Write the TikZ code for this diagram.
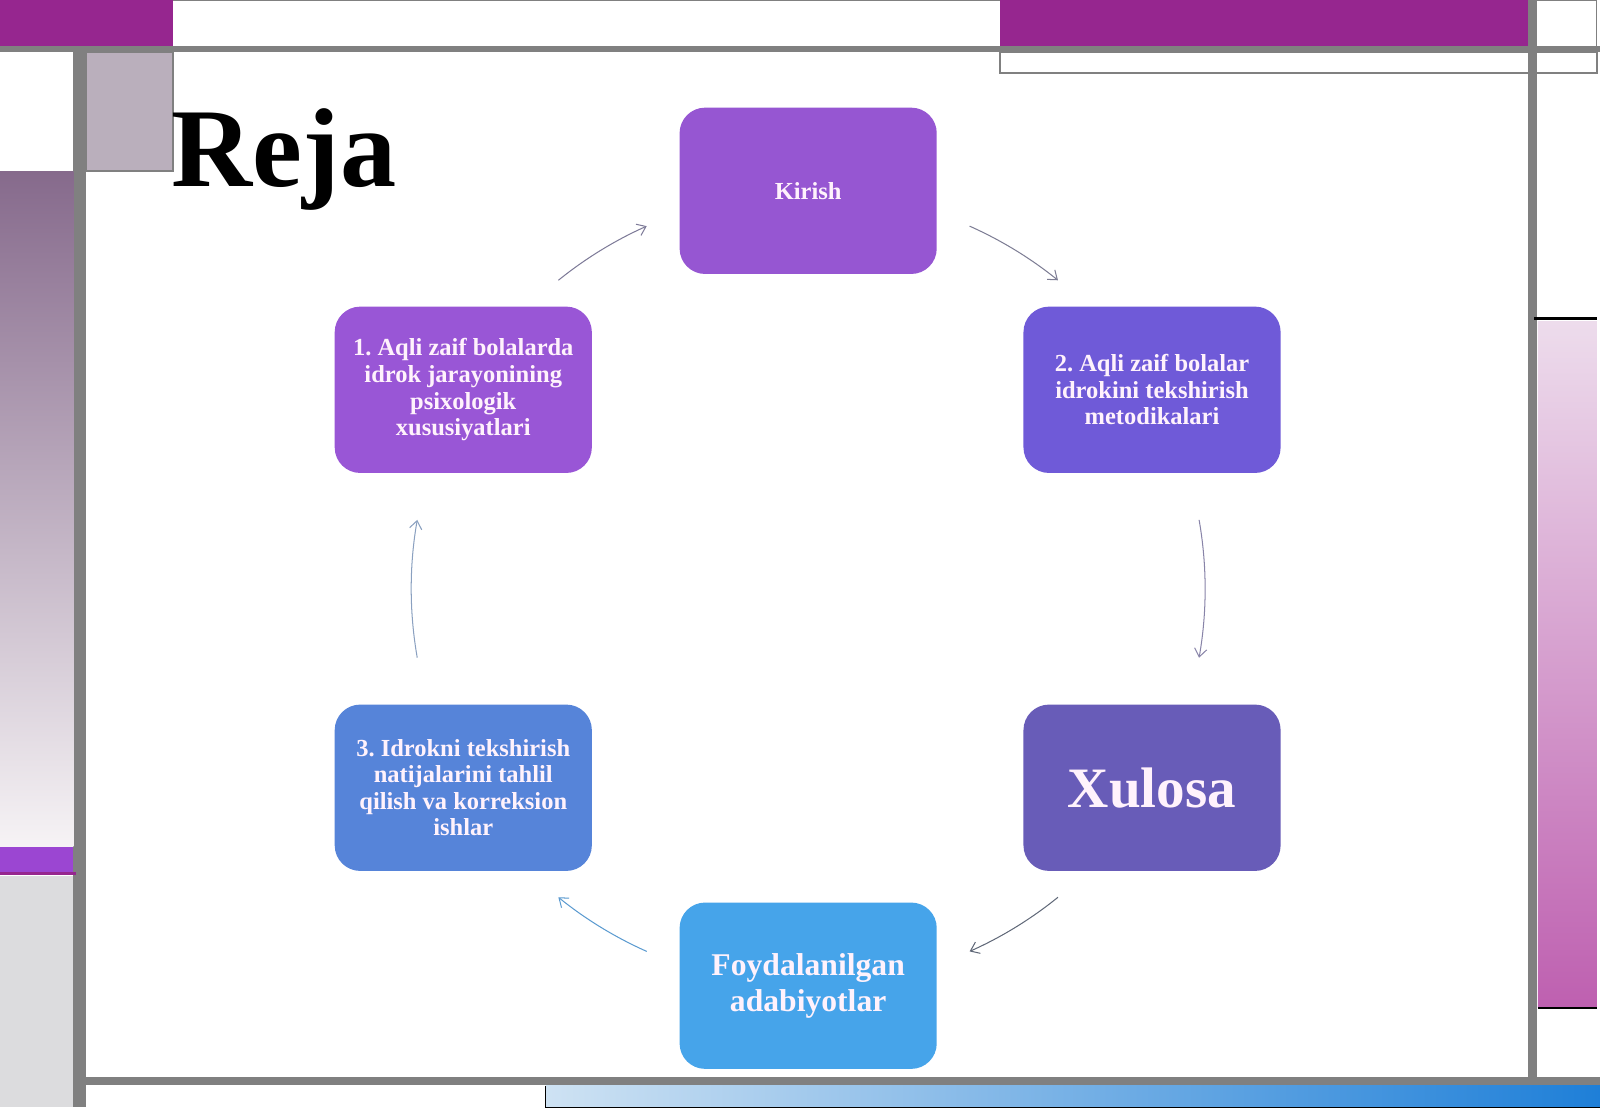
\documentclass[tikz,border=0pt]{standalone}
\usepackage{fontspec}
\setmainfont{Liberation Serif}
\usetikzlibrary{arrows.meta}
\frenchspacing

\definecolor{plum}{RGB}{150,38,143}
\definecolor{framegrey}{RGB}{128,128,128}
\definecolor{mauve}{RGB}{186,175,188}
\definecolor{leftA}{RGB}{134,106,140}
\definecolor{leftB}{RGB}{246,243,245}
\definecolor{violetbar}{RGB}{155,70,210}
\definecolor{lightgrey}{RGB}{220,220,222}
\definecolor{pinkA}{RGB}{237,220,236}
\definecolor{pinkB}{RGB}{190,96,176}
\definecolor{blueA}{RGB}{206,226,243}
\definecolor{blueB}{RGB}{30,127,216}
\definecolor{cellink}{RGB}{255,242,252}
\definecolor{kirishfill}{RGB}{150,86,210}
\definecolor{onefill}{RGB}{153,86,214}
\definecolor{twofill}{RGB}{111,90,216}
\definecolor{xulosafill}{RGB}{104,92,184}
\definecolor{threefill}{RGB}{86,132,217}
\definecolor{adabfill}{RGB}{70,164,234}
\definecolor{arrA}{RGB}{125,125,148}
\definecolor{arrB}{RGB}{136,132,168}
\definecolor{arrC}{RGB}{96,104,120}
\definecolor{arrD}{RGB}{90,154,208}
\definecolor{arrE}{RGB}{138,160,192}
\definecolor{arrF}{RGB}{125,122,152}

\begin{document}
\begin{tikzpicture}[x=0.5pt,y=-0.5pt,
        cell/.style={rounded corners=12.5pt,minimum width=126pt,minimum height=81.5pt,
            inner sep=2pt,align=center,text=cellink},
        cyc/.style={-{Straight Barb[length=4pt,width=6pt]},line width=0.5pt}]
        \useasboundingbox (0,0) rectangle (1568,1085);
        \fill[white] (0,0) rectangle (1568,1085);

        % slide frame
        \fill[plum] (0,0) rectangle (170,45);
        \fill[plum] (980,0) rectangle (1497,45);
        \draw[framegrey,line width=0.5pt] (170,0.5)--(980,0.5);
        \draw[framegrey,line width=0.5pt] (1506,0.5)--(1565,0.5)--(1565,45);
        \fill[framegrey] (0,45) rectangle (1568,51);
        \draw[framegrey,line width=1pt] (980,51) rectangle (1565,72);
        \fill[framegrey] (72,51) rectangle (84,1085);
        \fill[mauve,draw=framegrey,line width=1pt] (84,51) rectangle (170,168);
        \shade[top color=leftA,bottom color=leftB] (0,168) rectangle (72,830);
        \fill[violetbar] (0,830) rectangle (72,855);
        \fill[plum] (0,855) rectangle (74,857.5);
        \fill[lightgrey] (0,858) rectangle (72,1085);
        \fill[framegrey] (1497,0) rectangle (1506,1060);
        \fill[black] (1503,311) rectangle (1565,314);
        \shade[top color=pinkA,bottom color=pinkB] (1507,315) rectangle (1565,987);
        \fill[black] (1507,987) rectangle (1565,989);
        \fill[framegrey] (75,1055) rectangle (1568,1063);
        \shade[left color=blueA,right color=blueB] (535,1064) rectangle (1568,1085);
        \draw[black,line width=0.5pt] (535,1064)--(535,1085)--(1568,1085);

        \node[anchor=base west,inner sep=0pt,font=\fontsize{55}{60}\selectfont\bfseries] (title) at (168,183) {Reja};

        % cycle
        \node[cell,fill=kirishfill,font=\fontsize{12}{13}\selectfont\bfseries] (kirish) at (792,187) {Kirish};
        \node[cell,fill=onefill,font=\fontsize{12}{13}\selectfont\bfseries] (aqli) at (454,382)
            {1. Aqli zaif bolalarda\\idrok jarayonining\\psixologik\\xususiyatlari};
        \node[cell,fill=twofill,font=\fontsize{12}{13}\selectfont\bfseries] (metod) at (1129,382)
            {2. Aqli zaif bolalar\\idrokini tekshirish\\metodikalari};
        \node[cell,fill=xulosafill,font=\fontsize{28}{30}\selectfont\bfseries] (xulosa) at (1129,772) {Xulosa};
        \node[cell,fill=threefill,font=\fontsize{12}{13}\selectfont\bfseries] (tahlil) at (454,772)
            {3. Idrokni tekshirish\\natijalarini tahlil\\qilish va korreksion\\ishlar};
        \node[cell,fill=adabfill,font=\fontsize{15.5}{17.5}\selectfont\bfseries] (adabiyot) at (792,966)
            {Foydalanilgan\\adabiyotlar};

        \coordinate (hub) at (792,577);
        \foreach \s/\e/\c in {-66/-51/arrA,-10/10/arrB,51/66/arrC,114/129/arrD,170/190/arrE,231/246/arrF}
            \draw[cyc,\c] ([shift={(\s:389)}]hub) arc[start angle=\s,end angle=\e,radius=389];

    \end{tikzpicture}
\end{document}
